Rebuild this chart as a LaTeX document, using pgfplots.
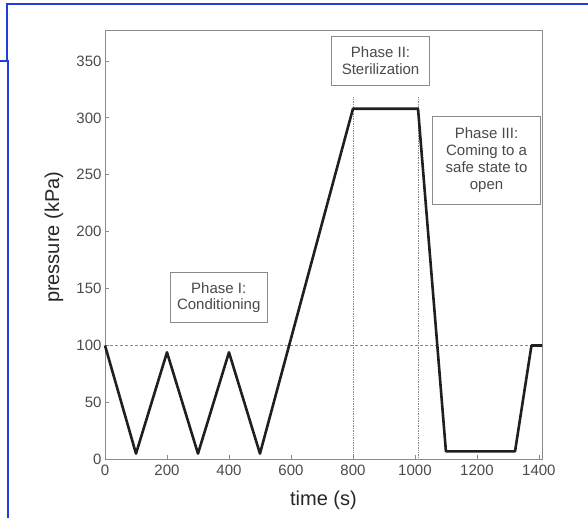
\documentclass[border=0pt]{standalone}
\usepackage{fontspec}
\setmainfont{Liberation Sans}
\usepackage{pgfplots}
\pgfplotsset{compat=1.18}

\definecolor{axgray}{HTML}{8A8A8A}
\definecolor{txtgray}{HTML}{4A4A4A}
\definecolor{frameblue}{HTML}{1E3FD8}

\begin{document}
\begin{tikzpicture}
\useasboundingbox (-105bp,-58.7bp) rectangle (483bp,459.3bp);
\begin{axis}[
  at={(0,0)}, anchor=south west,
  scale only axis, width=437bp, height=429.3bp,
  xmin=0, xmax=1410, ymin=0, ymax=377.2,
  xtick={0,200,...,1400}, ytick={0,50,...,350},
  tick align=inside, xtick pos=left, ytick pos=left,
  major tick length=4bp,
  axis line style={axgray, line width=0.9bp},
  every tick/.style={axgray, line width=0.8bp},
  ticklabel style={font=\fontsize{15bp}{18bp}\selectfont, text=txtgray},
  xticklabel style={yshift=-2bp},
  /pgf/number format/assume math mode=true,
  /pgf/number format/1000 sep={},
  xlabel={time (s)}, ylabel={pressure (kPa)},
  label style={font=\fontsize{20bp}{24bp}\selectfont, text=black!85},
  xlabel style={at={(axis description cs:0.5,-0.108)}, anchor=base},
  ylabel style={at={(axis description cs:-0.105,0.517)}, anchor=base},
  clip=false,
]
% reference level and phase borders
\addplot[axgray, line width=0.7bp, dash pattern=on 3bp off 2bp] coordinates {(0,100) (1410,100)};
\addplot[axgray, line width=0.7bp, densely dotted] coordinates {(800,0) (800,318)};
\addplot[axgray, line width=0.7bp, densely dotted] coordinates {(1010,0) (1010,318)};

% pressure cycle
\addplot[black!88, line width=2.6bp, line join=round] coordinates {
  (0,100) (100,5) (200,94) (300,5) (400,94) (500,5)
  (800,308) (1010,308) (1100,7) (1323,7) (1376,100) (1410,100)
};

\node[draw=axgray, fill=white, align=center, minimum width=97bp, minimum height=50bp,
  font=\fontsize{15bp}{16.8bp}\selectfont, text=txtgray] at (axis cs:367,142) {Phase I:\\Conditioning};
\node[draw=axgray, fill=white, align=center, minimum width=98bp, minimum height=49bp,
  font=\fontsize{15bp}{16.8bp}\selectfont, text=txtgray] at (axis cs:889,350) {Phase II:\\Sterilization};
\node[draw=axgray, fill=white, align=center, minimum width=108bp, minimum height=88bp,
  font=\fontsize{15bp}{16.8bp}\selectfont, text=txtgray] at (axis cs:1231,263) {Phase III:\\Coming to a\\safe state to\\open};
\end{axis}
% screenshot frame
\draw[frameblue, line width=2bp] (483bp,455.3bp) -- (-98bp,455.3bp) -- (-98bp,398.3bp);
\draw[frameblue, line width=2bp] (-105bp,398.3bp) -- (-96.5bp,398.3bp) -- (-96.5bp,-58.7bp);
\end{tikzpicture}
\end{document}
